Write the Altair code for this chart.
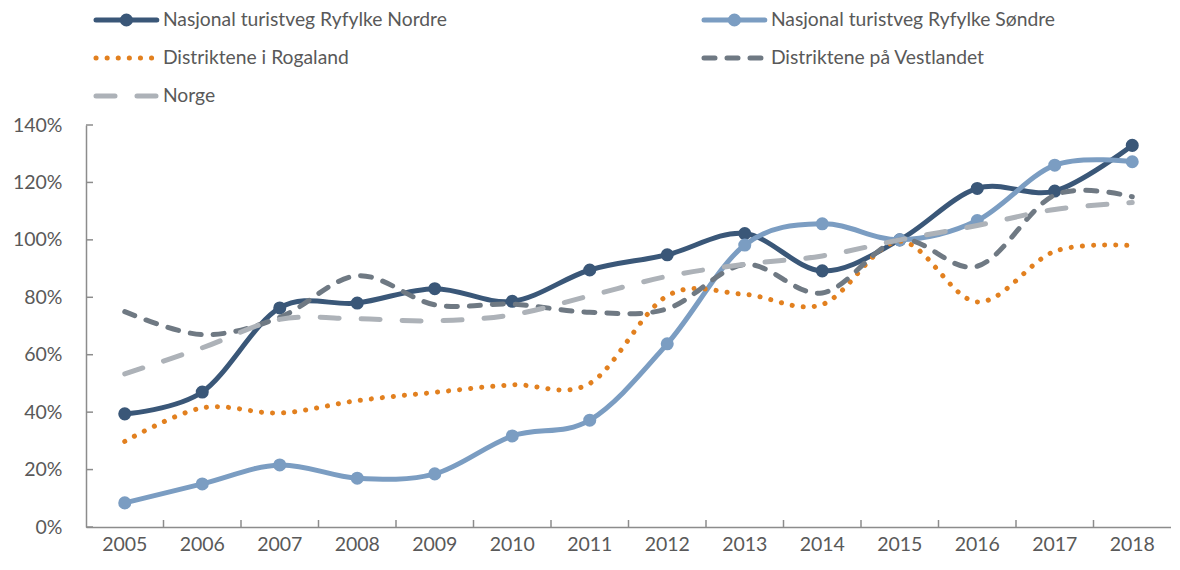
import altair as alt
import pandas as pd

years = [str(y) for y in range(2005, 2019)]
series = [
    "Nasjonal turistveg Ryfylke Nordre",
    "Nasjonal turistveg Ryfylke Søndre",
    "Distriktene i Rogaland",
    "Distriktene på Vestlandet",
    "Norge",
]
nordre = [39.4, 47.0, 76.3, 78.0, 83.0, 78.6, 89.5, 94.8, 102.2, 89.2, 100.0, 117.9, 117.0, 132.9]
sondre = [8.4, 15.0, 21.6, 17.0, 18.5, 31.7, 37.2, 63.8, 98.2, 105.6, 100.0, 106.7, 126.0, 127.2]
rogaland = [29.8, 41.5, 39.7, 44.0, 46.9, 49.5, 50.0, 80.5, 81.0, 77.5, 99.5, 78.4, 96.0, 98.0]
vestlandet = [75.0, 67.0, 73.0, 87.5, 77.4, 77.6, 74.8, 76.0, 91.4, 81.5, 100.0, 90.8, 115.6, 115.0]
norge = [53.3, 62.4, 72.3, 72.5, 71.8, 73.9, 80.5, 87.3, 91.5, 94.4, 100.0, 105.0, 110.6, 113.0]

colors = ["#3A5778", "#7B9DC2", "#E2801F", "#6F7983", "#ADB2B8"]
dashes = [None, None, [0.1, 11], [11, 12], [19, 22]]
markers = [True, True, False, False, False]
legend_col = [0, 1, 0, 1, 0]
legend_row = [0, 0, 1, 1, 2]
y_ticks = [0, 20, 40, 60, 80, 100, 120, 140]

W, H = 1085, 402
FONT = "Lato"
TXT = "#595959"
AX = "#8C8C8C"
LW = 5

rows = []
for name, vals in zip(series, [nordre, sondre, rogaland, vestlandet, norge]):
    for yr, v in zip(years, vals):
        rows.append({"series": name, "year": yr, "value": v})
df = pd.DataFrame(rows)

x_scale = alt.Scale(type="band", domain=years, paddingInner=0, paddingOuter=0)
x_axis = alt.Axis(title=None, labelAngle=0, ticks=False, tickSize=0, labelPadding=8,
                  domainColor=AX, domainWidth=1.5, labelFont=FONT, labelFontSize=19.5,
                  labelColor=TXT, grid=False)
y_scale = alt.Scale(domain=[0, 140], nice=False)
y_axis = alt.Axis(title=None, values=y_ticks, labelExpr="datum.value + '%'", ticks=False,
                  tickSize=0, labelPadding=24, domainColor=AX, domainWidth=1.5,
                  labelFont=FONT, labelFontSize=19.5, labelColor=TXT, grid=False)

x_enc = alt.X("year:N", scale=x_scale, axis=x_axis, bandPosition=0.5)
y_enc = alt.Y("value:Q", scale=y_scale, axis=y_axis)

layers = []
# inward tick marks
ytick_df = pd.DataFrame({"value": y_ticks})
layers.append(
    alt.Chart(ytick_df).mark_rule(color=AX, strokeWidth=1.5).encode(
        y=y_enc, x=alt.value(0), x2=alt.value(7)
    )
)
xtick_df = pd.DataFrame({"year": years[1:]})
layers.append(
    alt.Chart(xtick_df).mark_rule(color=AX, strokeWidth=1.5).encode(
        x=alt.X("year:N", scale=x_scale, axis=x_axis, bandPosition=0),
        y=alt.value(H), y2=alt.value(H - 7)
    )
)

base = alt.Chart(df)
for i, name in enumerate(series):
    mk = dict(interpolate="cardinal", color=colors[i], strokeWidth=LW, strokeCap="round")
    if dashes[i]:
        mk["strokeDash"] = dashes[i]
    sub = base.transform_filter(alt.datum.series == name)
    layers.append(sub.mark_line(**mk).encode(x=x_enc, y=y_enc))
    if markers[i]:
        layers.append(
            sub.mark_point(filled=True, size=170, color=colors[i], opacity=1).encode(x=x_enc, y=y_enc)
        )

main = alt.layer(*layers)

# legend
legdf = pd.DataFrame({"series": series, "col": legend_col, "row": legend_row})
lx = alt.Scale(domain=[0, 1], range=[10, 618])
ly = alt.Scale(domain=[0, 2], range=[-105, -29])
leg = alt.Chart(legdf).transform_calculate(
    x0="datum.col", x1="datum.col + 0.1", xm="datum.col + 0.05", xt="datum.col + 0.11"
)
leg_layers = []
for i, name in enumerate(series):
    sub = leg.transform_filter(alt.datum.series == name)
    mk = dict(color=colors[i], strokeWidth=LW, strokeCap="round")
    if dashes[i]:
        mk["strokeDash"] = dashes[i]
    leg_layers.append(
        sub.mark_rule(**mk).encode(
            x=alt.X("x0:Q", scale=lx, axis=None), x2="x1:Q",
            y=alt.Y("row:Q", scale=ly, axis=None)
        )
    )
    if markers[i]:
        leg_layers.append(
            sub.mark_point(filled=True, size=170, color=colors[i], opacity=1).encode(
                x=alt.X("xm:Q", scale=lx, axis=None), y=alt.Y("row:Q", scale=ly, axis=None)
            )
        )
leg_layers.append(
    leg.mark_text(align="left", baseline="middle", font=FONT, fontSize=19.3, color=TXT).encode(
        x=alt.X("xt:Q", scale=lx, axis=None), y=alt.Y("row:Q", scale=ly, axis=None),
        text="series:N"
    )
)
legend = alt.layer(*leg_layers)

chart = (
    alt.layer(main, legend)
    .resolve_scale(x="independent", y="independent")
    .properties(width=W, height=H, padding={"left": 4, "top": 3, "right": 0, "bottom": 0},
                background="white")
    .configure_view(stroke=None)
)

chart.save("out.html", embed_options={"renderer": "svg", "actions": False})
